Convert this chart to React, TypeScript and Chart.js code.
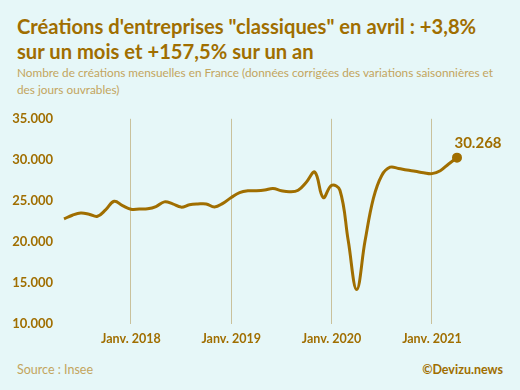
import React, { useEffect, useRef } from "react";
import { Chart, registerables } from "chart.js";

Chart.register(...registerables);

// Months from May 2017 (index 0) to April 2021 (index 47)
const months: string[] = [
  "Mai 2017", "Juin 2017", "Juil. 2017", "Août 2017", "Sept. 2017", "Oct. 2017", "Nov. 2017", "Déc. 2017",
  "Janv. 2018", "Févr. 2018", "Mars 2018", "Avr. 2018", "Mai 2018", "Juin 2018", "Juil. 2018", "Août 2018",
  "Sept. 2018", "Oct. 2018", "Nov. 2018", "Déc. 2018",
  "Janv. 2019", "Févr. 2019", "Mars 2019", "Avr. 2019", "Mai 2019", "Juin 2019", "Juil. 2019", "Août 2019",
  "Sept. 2019", "Oct. 2019", "Nov. 2019", "Déc. 2019",
  "Janv. 2020", "Févr. 2020", "Mars 2020", "Avr. 2020", "Mai 2020", "Juin 2020", "Juil. 2020", "Août 2020",
  "Sept. 2020", "Oct. 2020", "Nov. 2020", "Déc. 2020",
  "Janv. 2021", "Févr. 2021", "Mars 2021", "Avr. 2021",
];

const creations: number[] = [
  22800, 23250, 23520, 23380, 23120, 23930, 24950, 24420,
  23990, 24000, 24030, 24300, 24880, 24640, 24240, 24520,
  24620, 24630, 24260, 24700,
  25400, 26000, 26230, 26240, 26320, 26500, 26230, 26110,
  26300, 27300, 28500, 25400,
  26900, 26300, 20100, 14200, 20100, 25300, 28100, 29100,
  28950, 28750, 28600, 28430,
  28320, 28680, 29500, 30268,
];

const xTickIndexes: number[] = [8, 20, 32, 44];
const yTicks: number[] = [10000, 15000, 20000, 25000, 30000, 35000];

const GOLD = "#a06e00";
const LIGHT = "#c3a55e";
const BG = "#e6f7f8";
const GRID = "#c9c19c";
const FONT = "Lato, 'Open Sans', sans-serif";

function fmt(v: number): string {
  return String(Math.round(v)).replace(/\B(?=(\d{3})+(?!\d))/g, ".");
}

export default function App() {
  const ref = useRef<HTMLCanvasElement | null>(null);

  useEffect(() => {
    document.body.style.margin = "0";
    const canvas = ref.current;
    if (!canvas) return;
    const last = creations.length - 1;

    const lastLabel = {
      id: "lastLabel",
      afterDatasetsDraw(chart: any) {
        const meta = chart.getDatasetMeta(0);
        const pt = meta.data[last];
        if (!pt) return;
        const ctx = chart.ctx;
        ctx.save();
        ctx.font = `700 15px ${FONT}`;
        ctx.fillStyle = GOLD;
        ctx.textAlign = "center";
        ctx.textBaseline = "middle";
        ctx.fillText(fmt(creations[last]), pt.x + 21, pt.y - 14);
        ctx.restore();
      },
    };

    const chart = new Chart(canvas, {
      type: "line",
      data: {
        datasets: [
          {
            data: creations.map((v, i) => ({ x: i, y: v })),
            borderColor: GOLD,
            backgroundColor: GOLD,
            borderWidth: 3,
            tension: 0.4,
            clip: false,
            pointRadius: (c: any) => (c.dataIndex === last ? 3.5 : 0),
            pointHoverRadius: 0,
            fill: false,
          },
        ],
      },
      options: {
        animation: false,
        responsive: false,
        events: [],
        layout: { padding: { left: 0, right: 63, top: 16, bottom: 0 } },
        plugins: {
          legend: { display: false },
          tooltip: { enabled: false },
        },
        scales: {
          x: {
            type: "linear",
            min: 0,
            max: creations.length - 1,
            afterBuildTicks: (s: any) => {
              s.ticks = xTickIndexes.map((v) => ({ value: v }));
            },
            afterFit: (s: any) => {
              s.height = 36;
            },
            ticks: {
              autoSkip: false,
              maxRotation: 0,
              padding: 7,
              color: GOLD,
              font: { family: FONT, size: 12.5, weight: "bold" },
              callback: (v: any) => months[Number(v)],
            },
            grid: { color: GRID, lineWidth: 1, drawTicks: false },
            border: { display: false },
          },
          y: {
            min: 10000,
            max: 35000,
            afterBuildTicks: (s: any) => {
              s.ticks = yTicks.map((v) => ({ value: v }));
            },
            afterFit: (s: any) => {
              s.width = 64;
            },
            ticks: {
              padding: 11,
              color: GOLD,
              font: { family: FONT, size: 13, weight: "bold" },
              callback: (v: any) => fmt(Number(v)),
            },
            grid: { display: false, drawTicks: false },
            border: { display: false },
          },
        },
      },
      plugins: [lastLabel],
    } as any);

    return () => chart.destroy();
  }, []);

  return (
    <div
      style={{
        position: "fixed",
        left: 0,
        top: 0,
        width: 520,
        height: 390,
        background: BG,
        overflow: "hidden",
        fontFamily: FONT,
      }}
    >
      <div
        style={{
          position: "absolute",
          left: 17,
          top: 14,
          width: 500,
          color: GOLD,
          fontWeight: 700,
          fontSize: 20.2,
          lineHeight: "25px",
          whiteSpace: "nowrap",
        }}
      >
        Créations d'entreprises "classiques" en avril : +3,8%
        <br />
        sur un mois et +157,5% sur un an
      </div>
      <div
        style={{
          position: "absolute",
          left: 17,
          top: 65,
          width: 500,
          color: LIGHT,
          fontSize: 11.8,
          lineHeight: "16.5px",
          whiteSpace: "nowrap",
        }}
      >
        Nombre de créations mensuelles en France (données corrigées des variations saisonnières et
        <br />
        des jours ouvrables)
      </div>
      <canvas
        ref={ref}
        width={520}
        height={260}
        style={{ position: "absolute", left: 0, top: 100, width: 520, height: 260 }}
      />
      <div
        style={{
          position: "absolute",
          left: 17,
          top: 362,
          color: LIGHT,
          fontSize: 12.5,
        }}
      >
        Source : Insee
      </div>
      <div
        style={{
          position: "absolute",
          right: 17,
          top: 362,
          color: GOLD,
          fontSize: 12.5,
          fontWeight: 700,
        }}
      >
        ©Devizu.news
      </div>
    </div>
  );
}
